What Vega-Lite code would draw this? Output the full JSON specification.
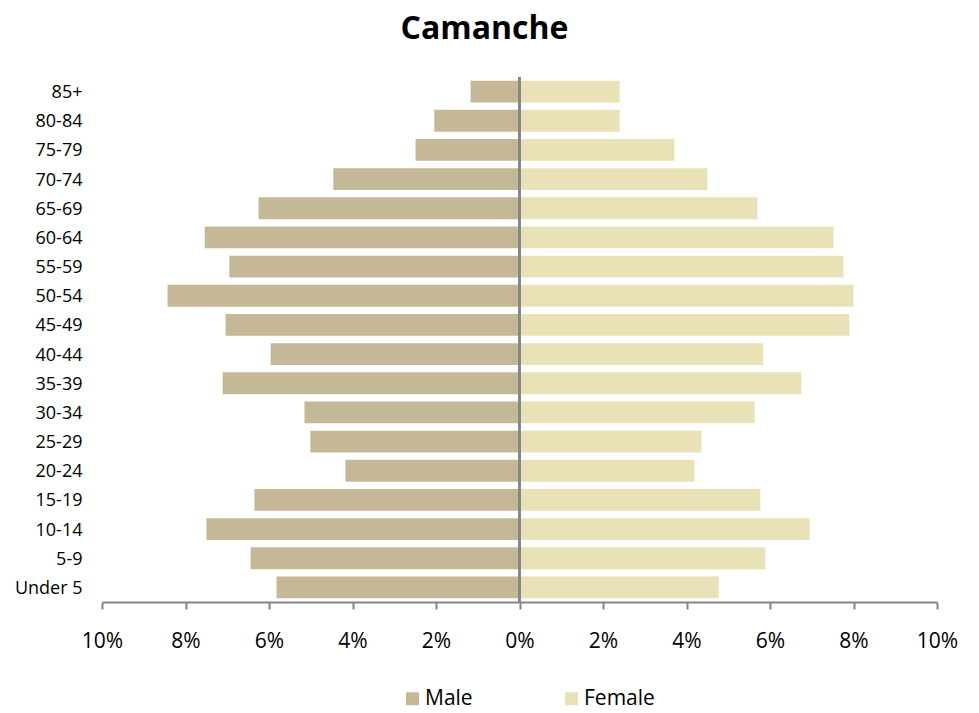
{
  "$schema": "https://vega.github.io/schema/vega-lite/v6.json",
  "autosize": "none",
  "width": 835,
  "height": 525,
  "padding": {"left": 102, "top": 77, "right": 42, "bottom": 111},
  "background": "white",
  "config": {"view": {"stroke": null}, "font": "Open Sans"},
  "title": {"text": "Camanche", "fontSize": 32, "font": "Open Sans", "fontWeight": "bold", "color": "#000000", "anchor": "middle", "dx": -35, "offset": 5, "baseline": "alphabetic"},
  "data": {"values": [
    {"age": "85+", "sex": "Male", "pct": -1.17},
    {"age": "80-84", "sex": "Male", "pct": -2.04},
    {"age": "75-79", "sex": "Male", "pct": -2.49},
    {"age": "70-74", "sex": "Male", "pct": -4.46},
    {"age": "65-69", "sex": "Male", "pct": -6.25},
    {"age": "60-64", "sex": "Male", "pct": -7.54},
    {"age": "55-59", "sex": "Male", "pct": -6.95},
    {"age": "50-54", "sex": "Male", "pct": -8.43},
    {"age": "45-49", "sex": "Male", "pct": -7.04},
    {"age": "40-44", "sex": "Male", "pct": -5.96},
    {"age": "35-39", "sex": "Male", "pct": -7.11},
    {"age": "30-34", "sex": "Male", "pct": -5.15},
    {"age": "25-29", "sex": "Male", "pct": -5.01},
    {"age": "20-24", "sex": "Male", "pct": -4.17},
    {"age": "15-19", "sex": "Male", "pct": -6.35},
    {"age": "10-14", "sex": "Male", "pct": -7.5},
    {"age": "5-9", "sex": "Male", "pct": -6.44},
    {"age": "Under 5", "sex": "Male", "pct": -5.82},
    {"age": "85+", "sex": "Female", "pct": 2.4},
    {"age": "80-84", "sex": "Female", "pct": 2.4},
    {"age": "75-79", "sex": "Female", "pct": 3.71},
    {"age": "70-74", "sex": "Female", "pct": 4.5},
    {"age": "65-69", "sex": "Female", "pct": 5.7},
    {"age": "60-64", "sex": "Female", "pct": 7.52},
    {"age": "55-59", "sex": "Female", "pct": 7.76},
    {"age": "50-54", "sex": "Female", "pct": 8.0},
    {"age": "45-49", "sex": "Female", "pct": 7.9},
    {"age": "40-44", "sex": "Female", "pct": 5.84},
    {"age": "35-39", "sex": "Female", "pct": 6.75},
    {"age": "30-34", "sex": "Female", "pct": 5.63},
    {"age": "25-29", "sex": "Female", "pct": 4.36},
    {"age": "20-24", "sex": "Female", "pct": 4.19},
    {"age": "15-19", "sex": "Female", "pct": 5.77},
    {"age": "10-14", "sex": "Female", "pct": 6.95},
    {"age": "5-9", "sex": "Female", "pct": 5.89},
    {"age": "Under 5", "sex": "Female", "pct": 4.77}
  ]},
  "layer": [
    {
      "mark": {"type": "bar"},
      "encoding": {
        "y": {
          "field": "age", "type": "nominal", "title": null,
          "sort": ["85+","80-84","75-79","70-74","65-69","60-64","55-59","50-54","45-49","40-44","35-39","30-34","25-29","20-24","15-19","10-14","5-9","Under 5"],
          "scale": {"paddingInner": 0.25, "paddingOuter": 0.125},
          "axis": {"domain": false, "ticks": false, "labelFontSize": 18, "labelColor": "#000000", "labelPadding": 20, "labelFont": "Open Sans", "labelOffset": 1.5}
        },
        "x": {
          "field": "pct", "type": "quantitative", "title": null,
          "scale": {"domain": [-10, 10], "nice": false},
          "axis": {"values": [-10,-8,-6,-4,-2,0,2,4,6,8,10], "grid": false, "domainColor": "#868686", "domainWidth": 2, "tickColor": "#868686", "tickWidth": 2, "tickSize": 7, "labelExpr": "abs(datum.value) + '%'", "labelFontSize": 21, "labelColor": "#000000", "labelPadding": 21, "labelFont": "Open Sans", "labelFlush": false}
        },
        "color": {
          "field": "sex", "type": "nominal", "title": null,
          "scale": {"domain": ["Male", "Female"], "range": ["#C4B897", "#E9E2B7"]},
          "legend": {"orient": "none", "legendX": 300, "legendY": 611, "direction": "horizontal", "symbolType": "square", "symbolSize": 169, "symbolStrokeWidth": 0, "symbolOpacity": 1, "labelFontSize": 21, "labelFont": "Open Sans", "labelColor": "#000000", "labelOffset": 2, "columnPadding": 88}
        }
      }
    },
    {
      "mark": {"type": "rule", "color": "#868686", "strokeWidth": 1.5},
      "encoding": {"x": {"datum": 0}}
    }
  ]
}
